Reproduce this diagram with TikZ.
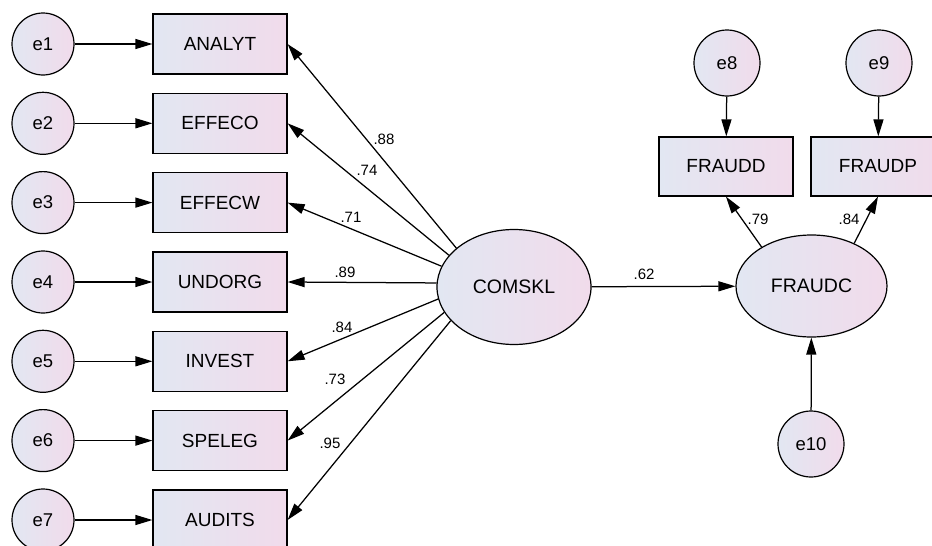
\documentclass[tikz,border=0pt]{standalone}
\usepackage{fontspec}
\setmainfont{Liberation Sans}
\usetikzlibrary{arrows.meta,shapes.geometric}
\definecolor{cl}{RGB}{226,231,242}
\definecolor{cr}{RGB}{241,219,235}
\begin{document}
\begin{tikzpicture}[x=1pt,y=-1pt,
  grad/.style={left color=cl,right color=cr,draw=black,line width=1.2pt},
  errc/.style={grad,circle,minimum size=62pt,inner sep=0pt,font=\fontsize{18.5}{22}\selectfont},
  errb/.style={errc,minimum size=66pt},
  obs/.style={grad,rectangle,minimum width=134pt,minimum height=60pt,inner sep=0pt,font=\fontsize{19}{22}\selectfont},
  lat/.style={grad,ellipse,inner sep=0pt,font=\fontsize{19.5}{22}\selectfont},
  conn/.style={line width=1.25pt,-{Triangle[length=17pt,width=10pt]}},
  coef/.style={font=\fontsize{15}{17}\selectfont,inner sep=0pt}]
\useasboundingbox (0,0) rectangle (932,546);
\clip (0,0) rectangle (932,546);
\fill[white] (0,0) rectangle (932,546);
% indicators of COMSKL
\foreach \i/\n/\y in {1/ANALYT/44,2/EFFECO/123.3,3/EFFECW/202.6,4/UNDORG/282,5/INVEST/361.3,6/SPELEG/440.6,7/AUDITS/520}{
  \node[errc] (e\i) at (43,\y) {e\i};
  \node[obs] (\n) at (220,\y) {\n};
  \draw[conn] (e\i) -- (\n);
}
\node[lat,minimum width=154pt,minimum height=115pt] (COMSKL) at (514,287) {COMSKL};
\node[lat,minimum width=151pt,minimum height=102pt] (FRAUDC) at (811.5,286) {FRAUDC};
\node[obs,minimum height=59pt] (FRAUDD) at (726,166.5) {FRAUDD};
\node[obs,minimum height=59pt] (FRAUDP) at (878,166.5) {FRAUDP};
\node[errb] (e8) at (727,63) {e8};
\node[errb] (e9) at (879,63) {e9};
\node[errb] (e10) at (811,444) {e10};
\foreach \n/\a in {ANALYT/146,EFFECO/154,EFFECW/164,UNDORG/177,INVEST/189,SPELEG/200,AUDITS/208}{
  \draw[conn] (COMSKL.\a) -- (\n.east);
}
\draw[conn] (COMSKL) -- (FRAUDC);
\draw[conn] (FRAUDC.142.5) -- (FRAUDD.south);
\draw[conn] (FRAUDC.45) -- (FRAUDP.south);
\draw[conn] (e8) -- (FRAUDD);
\draw[conn] (e9) -- (FRAUDP);
\draw[conn] (e10) -- (FRAUDC);
% coefficients
\node[coef] (c1) at (384,139) {.88};
\node[coef] (c2) at (367,170) {.74};
\node[coef] (c3) at (351,217) {.71};
\node[coef] (c4) at (345,272) {.89};
\node[coef] (c5) at (342,327) {.84};
\node[coef] (c6) at (335,379) {.73};
\node[coef] (c7) at (330,443) {.95};
\node[coef] (c8) at (644,274) {.62};
\node[coef] (c9) at (758,219) {.79};
\node[coef] (c10) at (849,219) {.84};
\end{tikzpicture}
\end{document}
